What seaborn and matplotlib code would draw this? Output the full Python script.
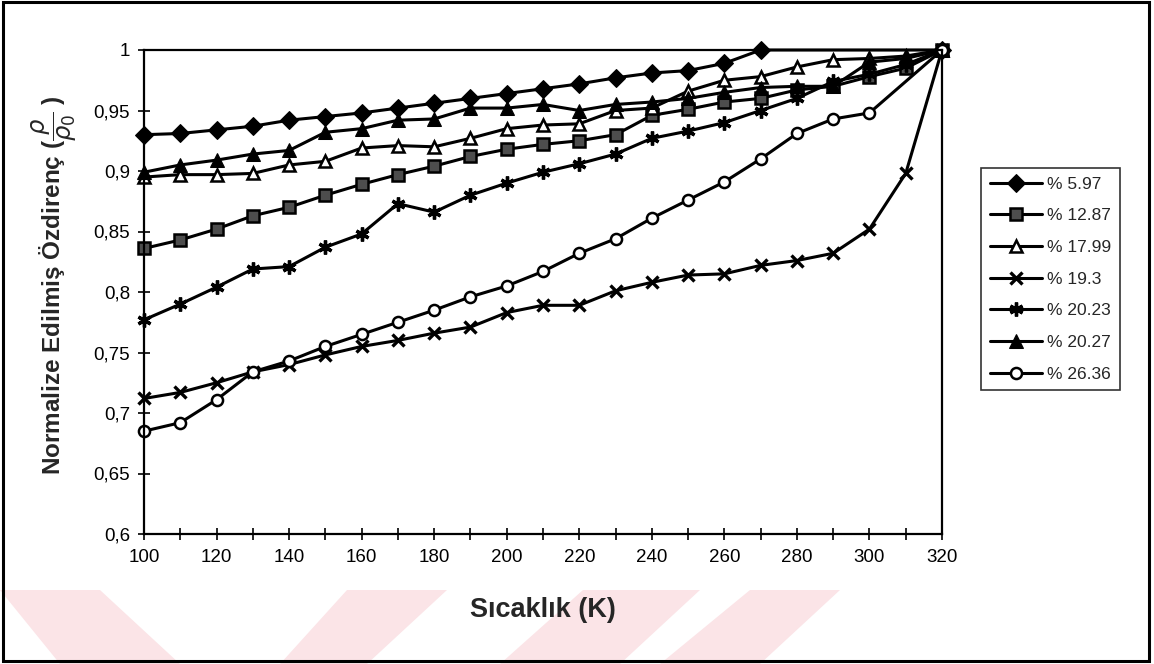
import numpy as np
import pandas as pd
import matplotlib
matplotlib.use("Agg")
import matplotlib.pyplot as plt
from matplotlib.patches import Rectangle, Polygon
from matplotlib.ticker import MultipleLocator, FuncFormatter
import seaborn as sns

# temperatures (K)
temps = [100, 110, 120, 130, 140, 150, 160, 170, 180, 190, 200, 210,
         220, 230, 240, 250, 260, 270, 280, 290, 300, 310, 320]
temps_597 = [100, 110, 120, 130, 140, 150, 160, 170, 180, 190, 200, 210,
             220, 230, 240, 250, 260, 270, 320]
temps_2636 = [100, 110, 120, 130, 140, 150, 160, 170, 180, 190, 200, 210,
              220, 230, 240, 250, 260, 270, 280, 290, 300, 320]

# normalised resistivity for each sample
s597 = [0.930, 0.931, 0.934, 0.937, 0.942, 0.945, 0.948, 0.952, 0.956, 0.960,
        0.964, 0.968, 0.972, 0.977, 0.981, 0.983, 0.989, 1.000, 1.000]
s1287 = [0.836, 0.843, 0.852, 0.863, 0.870, 0.880, 0.889, 0.897, 0.904, 0.912,
         0.918, 0.922, 0.925, 0.930, 0.946, 0.951, 0.957, 0.960, 0.967, 0.970,
         0.978, 0.985, 1.000]
s1799 = [0.895, 0.897, 0.897, 0.898, 0.905, 0.908, 0.919, 0.921, 0.920, 0.927,
         0.935, 0.938, 0.939, 0.950, 0.952, 0.966, 0.975, 0.978, 0.986, 0.992,
         0.993, 0.995, 1.000]
s193 = [0.712, 0.717, 0.725, 0.734, 0.740, 0.748, 0.755, 0.760, 0.766, 0.771,
        0.783, 0.789, 0.789, 0.801, 0.808, 0.814, 0.815, 0.822, 0.826, 0.832,
        0.852, 0.898, 1.000]
s2023 = [0.777, 0.790, 0.804, 0.819, 0.821, 0.837, 0.848, 0.873, 0.866, 0.880,
         0.890, 0.899, 0.906, 0.914, 0.927, 0.933, 0.940, 0.950, 0.960, 0.974,
         0.980, 0.988, 1.000]
s2027 = [0.899, 0.905, 0.909, 0.914, 0.917, 0.932, 0.935, 0.942, 0.943, 0.952,
         0.952, 0.955, 0.950, 0.955, 0.957, 0.960, 0.965, 0.969, 0.970, 0.970,
         0.990, 0.993, 1.000]
s2636 = [0.685, 0.692, 0.711, 0.734, 0.743, 0.755, 0.765, 0.775, 0.785, 0.796,
         0.805, 0.817, 0.832, 0.844, 0.861, 0.876, 0.891, 0.910, 0.931, 0.943,
         0.948, 1.000]

labels = ["% 5.97", "% 12.87", "% 17.99", "% 19.3", "% 20.23", "% 20.27", "% 26.36"]

sns.set_style("white")
plt.rcParams["font.family"] = ["Liberation Sans", "DejaVu Sans"]

fig = plt.figure(figsize=(11.54, 6.64), dpi=100)
ax = fig.add_axes([144 / 1154, 1 - 534 / 664, (942 - 144) / 1154, (534 - 50) / 664])

series = [
    (temps_597, s597, dict(marker="D", markersize=9, markerfacecolor="black")),
    (temps, s1287, dict(marker="s", markersize=8, markerfacecolor="0.3",
                        markeredgewidth=1.8)),
    (temps, s1799, dict(marker="^", markersize=8.5, markerfacecolor="white",
                        markeredgewidth=1.8)),
    (temps, s193, dict(marker="x", markersize=9, markeredgewidth=2.4)),
    (temps, s2023, dict(marker=(6, 2, 0), markersize=10, markeredgewidth=2.4)),
    (temps, s2027, dict(marker="^", markersize=9.5, markerfacecolor="black")),
    (temps_2636, s2636, dict(marker="o", markersize=8, markerfacecolor="white",
                             markeredgewidth=1.8)),
]

for (tx, vals, style), lab in zip(series, labels):
    df = pd.DataFrame({"T": tx, "rho": vals})
    sns.lineplot(data=df, x="T", y="rho", color="black", linewidth=2.2,
                 markeredgecolor="black", label=lab, clip_on=False, ax=ax,
                 **style)

ax.set_xlim(100, 320)
ax.set_ylim(0.6, 1.0)
ax.xaxis.set_major_locator(MultipleLocator(20))
ax.xaxis.set_minor_locator(MultipleLocator(10))
ax.yaxis.set_major_locator(MultipleLocator(0.05))
ax.yaxis.set_major_formatter(FuncFormatter(lambda v, p: f"{v:.2f}".rstrip("0").rstrip(".").replace(".", ",")))
ax.tick_params(axis="both", which="both", direction="inout", length=8, width=1.2,
               colors="black", labelsize=13.5, bottom=True, left=True)
ax.tick_params(axis="x", pad=7)
ax.tick_params(axis="y", pad=6)
for sp in ax.spines.values():
    sp.set_color("black")
    sp.set_linewidth(1.6)

ax.set_xlabel("Sıcaklık (K)", fontsize=19.5, fontweight="bold", labelpad=22)
ax.set_ylabel(r"Normalize Edilmiş Özdirenç ($\dfrac{\rho}{\rho_0}$ )", fontsize=17.5,
              fontweight="bold")
ax.yaxis.set_label_coords(-0.081, 0.515)

leg = ax.legend(loc="upper left", bbox_to_anchor=(981 / 1154, 1 - 168 / 664),
                bbox_transform=fig.transFigure, borderaxespad=0, fontsize=12.5,
                frameon=True, fancybox=False, edgecolor="black", handlelength=3.0,
                labelspacing=0.95, borderpad=0.5, handletextpad=0.3)
leg.get_frame().set_linewidth(1.2)

# outer frame of the figure
fig.patches.append(Rectangle((0.003, 0.005), 0.993, 0.992, transform=fig.transFigure,
                             fill=False, edgecolor="black", linewidth=2.2))

# faint pink watermark stripes along the bottom
stripes = [
    [(0, 590), (100, 590), (180, 664), (60, 664)],
    [(347, 590), (447, 590), (367, 664), (280, 664)],
    [(583, 590), (700, 590), (620, 664), (500, 664)],
    [(750, 590), (840, 590), (760, 664), (660, 664)],
]
for pts in stripes:
    fig.patches.append(Polygon([(x / 1154, 1 - y / 664) for x, y in pts],
                               closed=True, transform=fig.transFigure,
                               facecolor="#fbe4e7", edgecolor="none", zorder=-1))

fig.savefig("out.png", dpi=100)
